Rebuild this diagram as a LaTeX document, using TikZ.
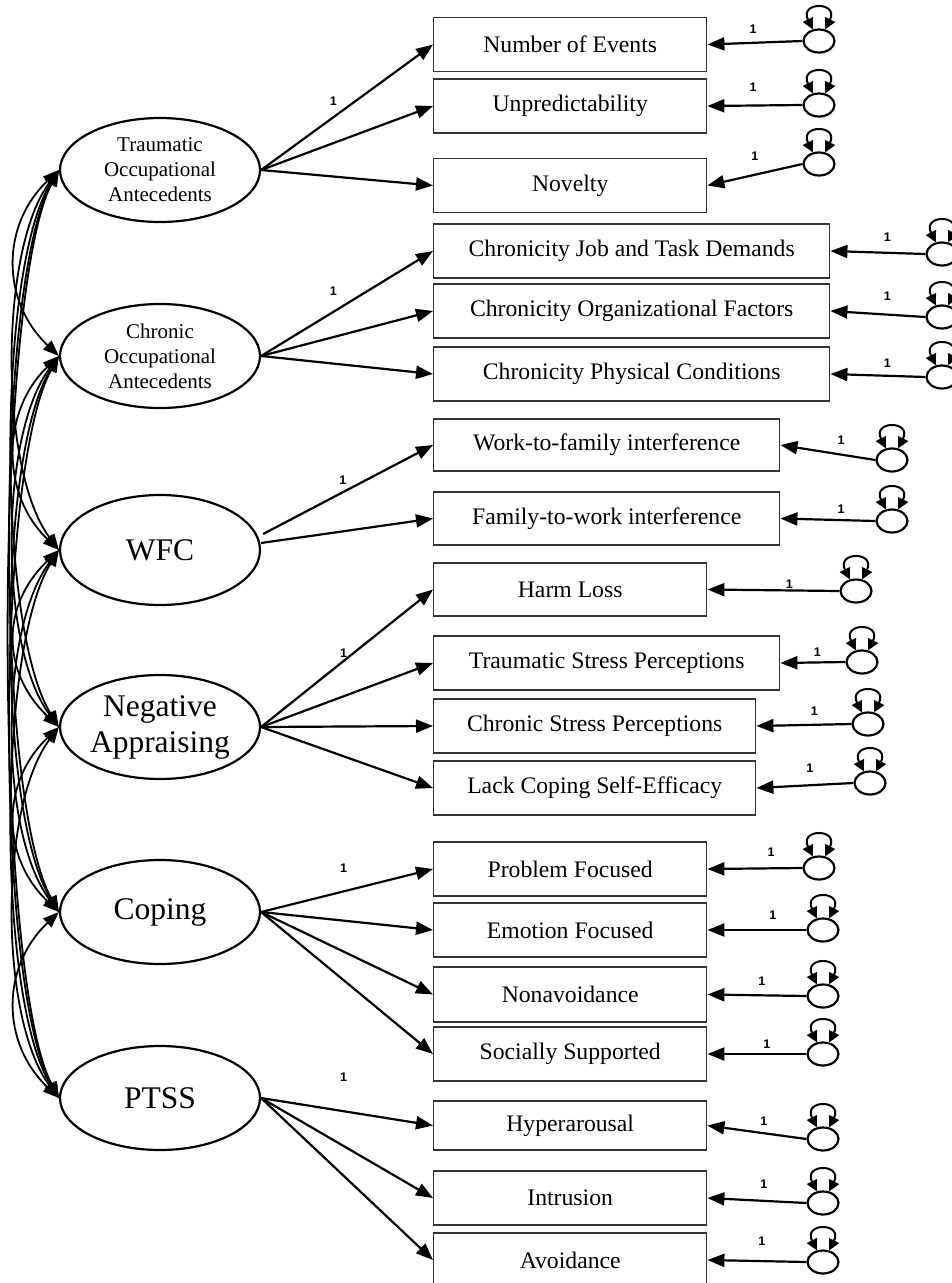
\documentclass[tikz,border=0pt]{standalone}
\usepackage{fontspec}
\setmainfont{Liberation Serif}
\newfontfamily\numfont{Liberation Sans}
\usetikzlibrary{arrows.meta,shapes.geometric,calc}

\begin{document}
\begin{tikzpicture}[x=1pt,y=-1pt,
  latent/.style={ellipse, draw, line width=2.2pt, minimum width=200pt, minimum height=104pt, inner sep=0pt},
  smalltxt/.style={align=center, inner sep=0pt, font=\fontsize{21}{25}\selectfont},
  bigtxt/.style={align=center, inner sep=0pt, font=\fontsize{31.5}{36}\selectfont},
  obs/.style={rectangle, draw=black!80, line width=1.4pt, minimum height=54pt, anchor=west, inner sep=0pt, font=\fontsize{23.7}{28}\selectfont},
  err/.style={ellipse, draw, line width=2.2pt, minimum width=31pt, minimum height=23pt, inner sep=0pt},
  load/.style={line width=2.2pt, -{Triangle[length=17pt,width=13pt]}},
  cov/.style={line width=1.8pt, {Triangle[length=16pt,width=12pt]}-{Triangle[length=16pt,width=12pt]}},
  var/.style={line width=2pt, {Triangle[length=11pt,width=11pt]}-{Triangle[length=11pt,width=11pt]}},
  one/.style={inner sep=0pt, font=\numfont\bfseries\fontsize{12.5}{13}\selectfont}
]
\useasboundingbox (0,0) rectangle (952,1283);

% latent factors
\node[latent] (T) at (160,170) {};
\node[smalltxt] (Tt) at (T) {Traumatic\\Occupational\\Antecedents};
\node[latent] (C) at (160,356) {};
\node[smalltxt] (Ct) at (C) {Chronic\\Occupational\\Antecedents};
\node[latent, minimum height=110pt] (W) at (160,550) {};
\node[bigtxt] (Wt) at (W) {WFC};
\node[latent] (N) at (160,727) {};
\node[bigtxt] (Nt) at (N) {Negative\\Appraising};
\node[latent] (K) at (160,912) {};
\node[bigtxt] (Kt) at (K) {Coping};
\node[latent] (P) at (160,1098) {};
\node[bigtxt] (Pt) at (P) {PTSS};

% observed indicators
\node[obs, minimum width=273pt] (ne) at (433,44.5) {Number of Events};
\node[obs, minimum width=273pt] (un) at (433,106) {Unpredictability};
\node[obs, minimum width=273pt] (nv) at (433,185.5) {Novelty};
\node[obs, minimum width=396pt] (cj) at (433,251) {Chronicity Job and Task Demands};
\node[obs, minimum width=396pt] (co) at (433,311) {Chronicity Organizational Factors};
\node[obs, minimum width=396pt] (cp) at (433,374) {Chronicity Physical Conditions};
\node[obs, minimum width=346pt, minimum height=52pt] (wf) at (433,445) {Work-to-family interference};
\node[obs, minimum width=346pt, minimum height=53pt] (fw) at (433,518.5) {Family-to-work interference};
\node[obs, minimum width=273pt, minimum height=53pt] (hl) at (433,589.5) {Harm Loss};
\node[obs, minimum width=346pt] (ts) at (433,663) {Traumatic Stress Perceptions};
\node[obs, minimum width=322pt] (cs) at (433,726) {Chronic Stress Perceptions};
\node[obs, minimum width=322pt] (lc) at (433,788) {Lack Coping Self-Efficacy};
\node[obs, minimum width=273pt] (pf) at (433,869) {Problem Focused};
\node[obs, minimum width=273pt] (ef) at (433,930) {Emotion Focused};
\node[obs, minimum width=273pt, minimum height=55pt] (na) at (433,994.5) {Nonavoidance};
\node[obs, minimum width=273pt] (ss) at (433,1054) {Socially Supported};
\node[obs, minimum width=273pt, minimum height=49pt] (hy) at (433,1125.5) {Hyperarousal};
\node[obs, minimum width=273pt] (intr) at (433,1198) {Intrusion};
\node[obs, minimum width=273pt] (av) at (433,1260) {Avoidance};

% error terms
\node[err] (e1) at (819,41) {};
\node[err] (e2) at (819,105) {};
\node[err] (e3) at (819,164) {};
\node[err] (e4) at (942,254) {};
\node[err] (e5) at (942,317) {};
\node[err] (e6) at (942,377) {};
\node[err] (e7) at (892,460) {};
\node[err] (e8) at (892,521) {};
\node[err] (e9) at (856,591) {};
\node[err] (e10) at (862,662) {};
\node[err] (e11) at (868,724) {};
\node[err] (e12) at (870,783) {};
\node[err] (e13) at (819,868) {};
\node[err] (e14) at (823,930) {};
\node[err] (e15) at (823,996) {};
\node[err] (e16) at (823,1054) {};
\node[err] (e17) at (823,1139) {};
\node[err] (e18) at (823,1203) {};
\node[err] (e19) at (823,1262) {};

% error variances
\foreach \e in {e1,e2,e3,e4,e5,e6,e7,e8,e9,e10,e11,e12,e13,e14,e15,e16,e17,e18,e19}
  \draw[var] (\e.118) .. controls +(-14,-28) and +(14,-28) .. (\e.62);

% error paths with fixed loadings
\draw[load] (e1.west) -- (ne.east) node[one, pos=.52, yshift=13.5pt] {1};
\draw[load] (e2.west) -- (un.east) node[one, pos=.52, yshift=18.5pt] {1};
\draw[load] (e3.west) -- (nv.east) node[one, pos=.5, yshift=18.5pt] {1};
\draw[load] (e4.west) -- (cj.east) node[one, pos=.4, yshift=15.5pt] {1};
\draw[load] (e5.west) -- (co.east) node[one, pos=.4, yshift=18pt] {1};
\draw[load] (e6.west) -- (cp.east) node[one, pos=.4, yshift=13pt] {1};
\draw[load] (e7.west) -- (wf.east) node[one, pos=.36, yshift=14.5pt] {1};
\draw[load] (e8.west) -- (fw.east) node[one, pos=.36, yshift=11pt] {1};
\draw[load] (e9.west) -- (hl.east) node[one, pos=.38, yshift=6pt] {1};
\draw[load] (e10.west) -- (ts.east) node[one, pos=.43, yshift=10pt] {1};
\draw[load] (e11.west) -- (cs.east) node[one, pos=.39, yshift=14pt] {1};
\draw[load] (e12.west) -- (lc.east) node[one, pos=.45, yshift=17pt] {1};
\draw[load] (e13.west) -- (pf.east) node[one, pos=.33, yshift=16pt] {1};
\draw[load] (e14.west) -- (ef.east) node[one, pos=.34, yshift=15pt] {1};
\draw[load] (e15.west) -- (na.east) node[one, pos=.45, yshift=14pt] {1};
\draw[load] (e16.west) -- (ss.east) node[one, pos=.4, yshift=10pt] {1};
\draw[load] (e17.west) -- (hy.east) node[one, pos=.43, yshift=12pt] {1};
\draw[load] (e18.west) -- (intr.east) node[one, pos=.43, yshift=17pt] {1};
\draw[load] (e19.west) -- (av.east) node[one, pos=.45, yshift=20pt] {1};

% factor loadings
\draw[load] (T.east) -- (ne.west) node[one, pos=.42, yshift=16pt] {1};
\draw[load] (T.east) -- (un.west);
\draw[load] (T.east) -- (nv.west);
\draw[load] (C.east) -- (cj.west) node[one, pos=.42, yshift=21pt] {1};
\draw[load] (C.east) -- (co.west);
\draw[load] (C.east) -- (cp.west);
\draw[load] ([shift={(2,-16)}]W.east) -- (wf.west) node[one, pos=.47, yshift=12pt] {1};
\draw[load] ([shift={(0,-7)}]W.east) -- (fw.west);
\draw[load] (N.east) -- (hl.west) node[one, pos=.48, yshift=8pt] {1};
\draw[load] (N.east) -- (ts.west);
\draw[load] (N.east) -- (cs.west);
\draw[load] (N.east) -- (lc.west);
\draw[load] (K.east) -- (pf.west) node[one, pos=.48, yshift=23pt] {1};
\draw[load] (K.east) -- (ef.west);
\draw[load] (K.east) -- (na.west);
\draw[load] (K.east) -- (ss.west);
\draw[load] (P.east) -- (hy.west) node[one, pos=.48, yshift=34pt] {1};
\draw[load] (P.east) -- (intr.west);
\draw[load] (P.east) -- (av.west);

% factor covariances
\foreach \a/\b/\h/\v in {
  T/C/58/55, C/W/58/55, W/N/58/55, N/K/58/55, K/P/58/55,
  T/W/60/80, C/N/60/80, W/K/60/80, N/P/60/80,
  T/N/62/100, C/K/62/100, W/P/62/100,
  T/K/64/115, C/P/64/115,
  T/P/66/125}
  \draw[cov] (\a.west) .. controls +(-\h,\v) and +(-\h,-\v) .. (\b.west);

\end{tikzpicture}
\end{document}
